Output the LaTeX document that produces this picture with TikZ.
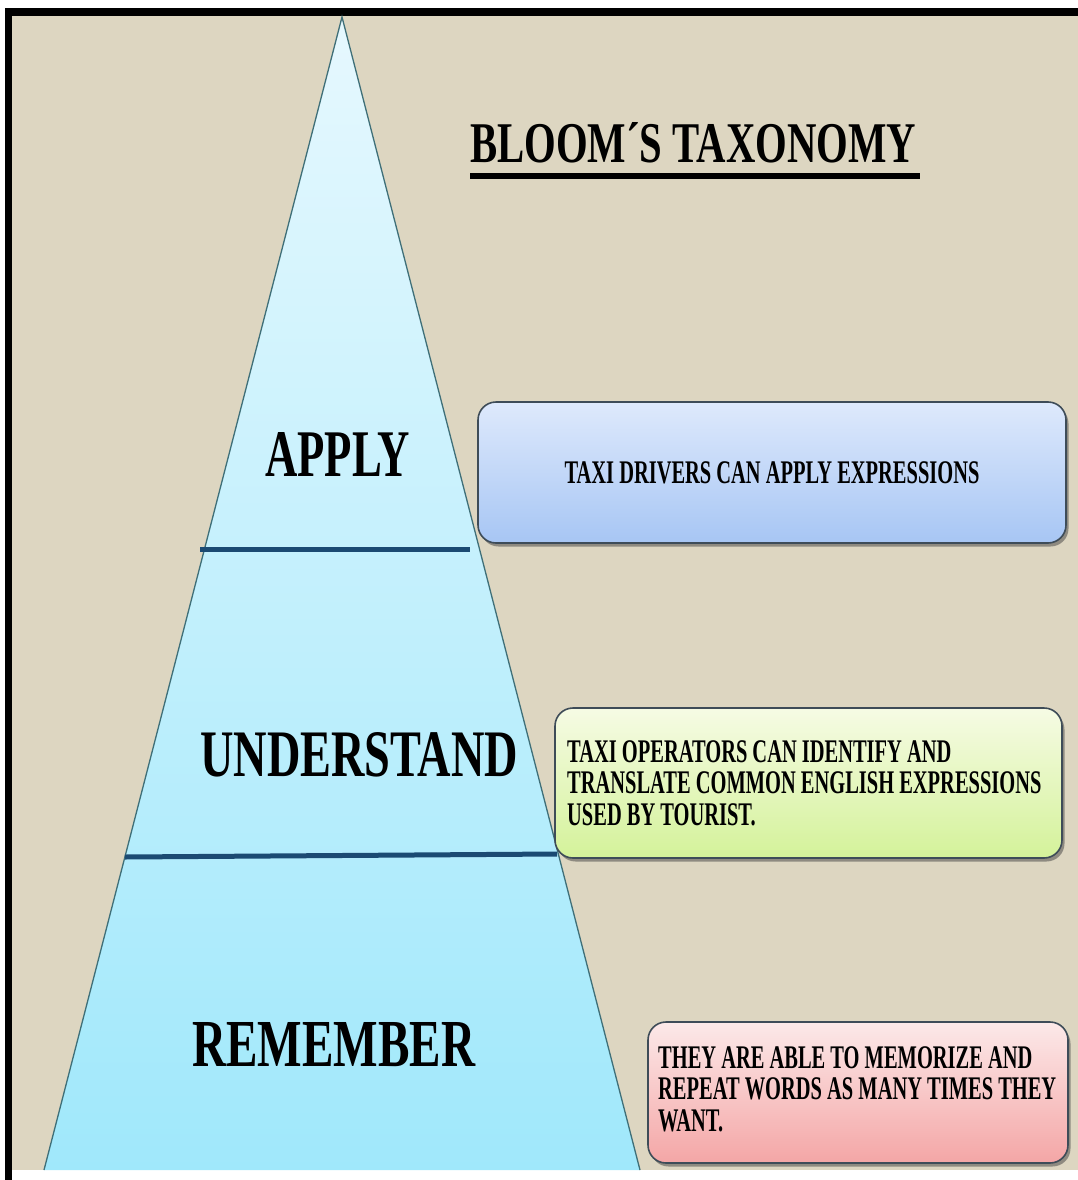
\documentclass[tikz,border=0pt]{standalone}
\usepackage{fontspec}
\usepackage{graphicx}
\setmainfont{Liberation Serif}
\usetikzlibrary{shadows}
\definecolor{beige}{HTML}{DDD6C1}
\definecolor{tritop}{HTML}{E6F8FE}
\definecolor{tribot}{HTML}{A0E8FB}
\definecolor{triline}{HTML}{3F6F78}
\definecolor{divider}{HTML}{1B4A72}
\definecolor{boxline}{HTML}{3E4C58}
\definecolor{bluetop}{HTML}{DEE9FC}
\definecolor{bluebot}{HTML}{A7C6F4}
\definecolor{greentop}{HTML}{F6FBE4}
\definecolor{greenbot}{HTML}{D4F29A}
\definecolor{pinktop}{HTML}{FCE9E9}
\definecolor{pinkbot}{HTML}{F4A6A6}
\begin{document}
\begin{tikzpicture}[x=1pt,y=-1pt,
  card/.style={draw=boxline, line width=1.6pt, rounded corners=18pt, inner sep=0pt,
    drop shadow={shadow xshift=2.5pt, shadow yshift=-3.5pt, opacity=0.5, fill=black!75}},
  biglabel/.style={anchor=base west, inner sep=0pt, font=\bfseries},
  boxtext/.style={anchor=base west, inner sep=0pt, font=\fontsize{33}{31.5}\selectfont\bfseries}]
% page, frame and background
\fill[white] (0,0) rectangle (1078,1180);
\path[use as bounding box] (0,0) rectangle (1078,1180);
\fill[black] (5,8) rectangle (1078,1180);
\fill[white] (12,1170) rectangle (1078,1180);
\fill[beige] (12,16) rectangle (1078,1170);
% pyramid
\shade[top color=tritop, bottom color=tribot] (342,17) -- (44,1170) -- (640,1170) -- cycle;
\draw[triline, line width=1.3pt] (44,1170) -- (342,17) -- (640,1170);
\draw[divider, line width=5pt] (200,549) -- (470,549);
\draw[divider, line width=5pt] (125,857) -- (557,854);
% level labels
\node[biglabel] (apply) at (265,476) {\resizebox{145pt}{44pt}{APPLY}};
\node[biglabel] (understand) at (200,776) {\resizebox{318pt}{44pt}{UNDERSTAND}};
\node[biglabel] (remember) at (192,1066) {\resizebox{283pt}{44pt}{REMEMBER}};
% title
\node[biglabel] (title) at (470,162) {\resizebox{446pt}{40pt}{BLOOM´S TAXONOMY}};
\draw[line width=5.5pt] ([yshift=-14pt]title.base west) -- ([yshift=-14pt,xshift=4pt]title.base east);
% description boxes
\node[card, top color=bluetop, bottom color=bluebot, minimum width=588pt, minimum height=141pt]
  (b1) at (772,472.5) {\fontsize{33}{31.5}\selectfont\bfseries\scalebox{0.62}[1]{TAXI DRIVERS CAN APPLY EXPRESSIONS}};
\node[card, top color=greentop, bottom color=greenbot, minimum width=507pt, minimum height=150pt]
  (b2) at (808.5,783) {};
\node[card, top color=pinktop, bottom color=pinkbot, minimum width=420pt, minimum height=141pt]
  (b3) at (858,1092.5) {};
\node[boxtext] (t2) at (567,762) {\scalebox{0.62}[1]{\begin{tabular}[t]{@{}l@{}}TAXI OPERATORS CAN IDENTIFY AND\\TRANSLATE COMMON ENGLISH EXPRESSIONS\\USED BY TOURIST.\end{tabular}}};
\node[boxtext] (t3) at (658,1068) {\scalebox{0.62}[1]{\begin{tabular}[t]{@{}l@{}}THEY ARE ABLE TO MEMORIZE AND\\REPEAT WORDS AS MANY TIMES THEY\\WANT.\end{tabular}}};
\end{tikzpicture}
\end{document}
